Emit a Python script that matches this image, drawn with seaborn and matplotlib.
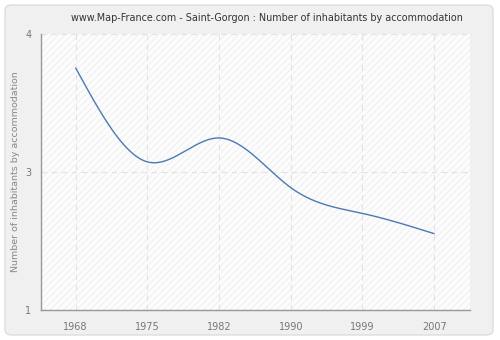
import numpy as np
import pandas as pd
import matplotlib
matplotlib.use("Agg")
import matplotlib.pyplot as plt
from matplotlib.patches import FancyBboxPatch, Rectangle
import seaborn as sns

years = ["1968", "1975", "1982", "1990", "1999", "2007"]
values = [3.63, 2.61, 2.87, 2.33, 2.05, 1.83]
ytick_pos = [1, 2.5, 4]
ytick_labels = ["1", "3", "4"]
title = "www.Map-France.com - Saint-Gorgon : Number of inhabitants by accommodation"
ylabel = "Number of inhabitants by accommodation"


def natural_spline(x, y, xs):
    x = np.asarray(x, float); y = np.asarray(y, float)
    n = len(x)
    h = np.diff(x)
    A = np.zeros((n, n)); b = np.zeros(n)
    A[0, 0] = 1; A[-1, -1] = 1
    for i in range(1, n - 1):
        A[i, i - 1] = h[i - 1]
        A[i, i] = 2 * (h[i - 1] + h[i])
        A[i, i + 1] = h[i]
        b[i] = 3 * ((y[i + 1] - y[i]) / h[i] - (y[i] - y[i - 1]) / h[i - 1])
    c = np.linalg.solve(A, b)
    out = np.empty_like(xs)
    for k, xv in enumerate(xs):
        i = min(max(np.searchsorted(x, xv) - 1, 0), n - 2)
        dx = xv - x[i]
        bi = (y[i + 1] - y[i]) / h[i] - h[i] * (2 * c[i] + c[i + 1]) / 3
        di = (c[i + 1] - c[i]) / (3 * h[i])
        out[k] = y[i] + bi * dx + c[i] * dx ** 2 + di * dx ** 3
    return out


sns.set_style("white")
plt.rcParams["font.family"] = ["DejaVu Sans"]
plt.rcParams["hatch.linewidth"] = 0.6

fig = plt.figure(figsize=(5, 3.4), dpi=100)
fig.patch.set_facecolor("white")
bg = FancyBboxPatch((5 / 500, 5 / 340), 488 / 500, 330 / 340,
                    boxstyle="round,pad=0,rounding_size=0.015",
                    transform=fig.transFigure, facecolor="#f0f0f0",
                    edgecolor="#dddddd", linewidth=1, zorder=-10)
fig.patches.append(bg)

ax = fig.add_axes([41 / 500, 30 / 340, 429 / 500, 276 / 340])
ax.set_facecolor("#fcfcfc")
ax.add_patch(Rectangle((0, 0), 1, 1, transform=ax.transAxes, facecolor="none",
                       edgecolor="#ededed", hatch="/////", linewidth=0, zorder=0))

xi = np.arange(len(years))
xs = np.linspace(0, len(years) - 1, 300)
df = pd.DataFrame({"x": xs, "y": natural_spline(xi, values, xs)})
sns.lineplot(data=df, x="x", y="y", ax=ax, color="#4a7ab5", linewidth=1.0, zorder=3)

ax.set_xlim(-0.484, 5.5)
ax.set_ylim(1, 4)
ax.set_xticks(xi)
ax.set_xticklabels(years)
ax.set_yticks(ytick_pos)
ax.set_yticklabels(ytick_labels)
ax.grid(True, color="#e2e2e2", linestyle=(0, (5, 4)), linewidth=0.8)
ax.set_axisbelow(True)
for s in ["top", "right"]:
    ax.spines[s].set_visible(False)
for s in ["left", "bottom"]:
    ax.spines[s].set_color("#999999")
    ax.spines[s].set_linewidth(1)
ax.tick_params(axis="both", direction="out", length=5, width=1, color="#999999",
               labelcolor="#777777", labelsize=7, pad=4)
ax.tick_params(axis="y", pad=2)
ax.set_xlabel("")
ax.set_ylabel(ylabel, fontsize=6.8, color="#888888", labelpad=4)
fig.text(0.534, 1 - 18 / 340, title, ha="center", va="center", fontsize=6.9, color="#333333")

fig.savefig("out.png", dpi=100, facecolor=fig.get_facecolor())
